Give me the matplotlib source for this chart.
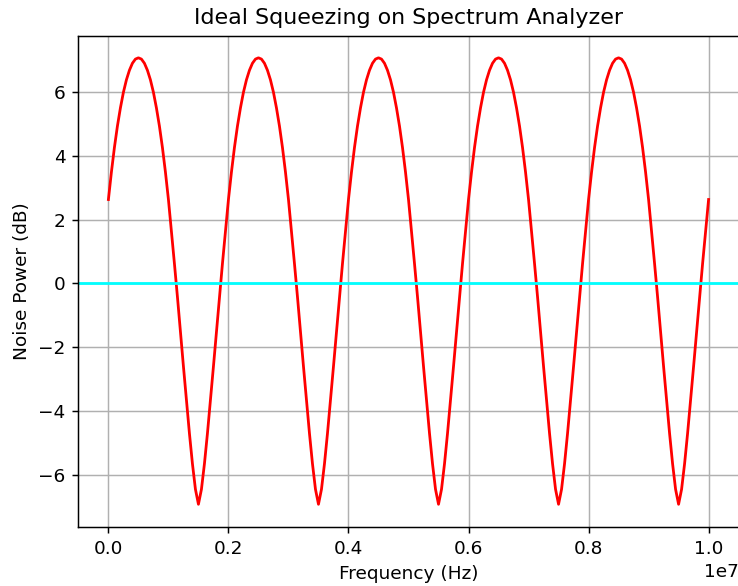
"""Ideal squeezing trace on a spectrum analyzer"""
import matplotlib
matplotlib.use('Agg')
import matplotlib.pyplot as plt
import numpy as np

# Noise power, every 0.05 MHz from 0 to 10 MHz
noise_db = [
    2.63, 3.49, 4.26, 4.93, 5.50, 5.99, 6.38, 6.68, 6.90, 7.03, 7.07,
    # 0.55 - 1.5 MHz
    7.03, 6.90, 6.68, 6.38, 5.99, 5.50, 4.93, 4.26, 3.49, 2.63,
    1.64, 0.62, -0.42, -1.52, -2.60, -3.66, -4.70, -5.65, -6.45, -6.92,
    # 1.55 - 2.5 MHz
    -6.45, -5.65, -4.70, -3.66, -2.60, -1.52, -0.42, 0.62, 1.64, 2.63,
    3.49, 4.26, 4.93, 5.50, 5.99, 6.38, 6.68, 6.90, 7.03, 7.07,
    # 2.55 - 3.5 MHz
    7.03, 6.90, 6.68, 6.38, 5.99, 5.50, 4.93, 4.26, 3.49, 2.63,
    1.64, 0.62, -0.42, -1.52, -2.60, -3.66, -4.70, -5.65, -6.45, -6.92,
    # 3.55 - 4.5 MHz
    -6.45, -5.65, -4.70, -3.66, -2.60, -1.52, -0.42, 0.62, 1.64, 2.63,
    3.49, 4.26, 4.93, 5.50, 5.99, 6.38, 6.68, 6.90, 7.03, 7.07,
    # 4.55 - 5.5 MHz
    7.03, 6.90, 6.68, 6.38, 5.99, 5.50, 4.93, 4.26, 3.49, 2.63,
    1.64, 0.62, -0.42, -1.52, -2.60, -3.66, -4.70, -5.65, -6.45, -6.92,
    # 5.55 - 6.5 MHz
    -6.45, -5.65, -4.70, -3.66, -2.60, -1.52, -0.42, 0.62, 1.64, 2.63,
    3.49, 4.26, 4.93, 5.50, 5.99, 6.38, 6.68, 6.90, 7.03, 7.07,
    # 6.55 - 7.5 MHz
    7.03, 6.90, 6.68, 6.38, 5.99, 5.50, 4.93, 4.26, 3.49, 2.63,
    1.64, 0.62, -0.42, -1.52, -2.60, -3.66, -4.70, -5.65, -6.45, -6.92,
    # 7.55 - 8.5 MHz
    -6.45, -5.65, -4.70, -3.66, -2.60, -1.52, -0.42, 0.62, 1.64, 2.63,
    3.49, 4.26, 4.93, 5.50, 5.99, 6.38, 6.68, 6.90, 7.03, 7.07,
    # 8.55 - 9.5 MHz
    7.03, 6.90, 6.68, 6.38, 5.99, 5.50, 4.93, 4.26, 3.49, 2.63,
    1.64, 0.62, -0.42, -1.52, -2.60, -3.66, -4.70, -5.65, -6.45, -6.92,
    # 9.55 - 10 MHz
    -6.45, -5.65, -4.70, -3.66, -2.60, -1.52, -0.42, 0.62, 1.64, 2.63,
]
freq_hz = np.linspace(0, 1e7, len(noise_db))
shot_noise_db = 0.0

DPI = 133
fig = plt.figure(figsize=(738 / DPI, 586 / DPI), dpi=DPI)
ax = fig.add_axes([78.4 / 738, 59.4 / 586, (738.6 - 78.4) / 738, (526.6 - 35.5) / 586])

ax.plot(freq_hz, noise_db, color='red')
ax.axhline(shot_noise_db, color='cyan')

ax.set_title('Ideal Squeezing on Spectrum Analyzer')
ax.set_xlabel('Frequency (Hz)')
ax.set_ylabel('Noise Power (dB)')
ax.grid(True)

fig.savefig('out.png', dpi=DPI)
plt.close()
